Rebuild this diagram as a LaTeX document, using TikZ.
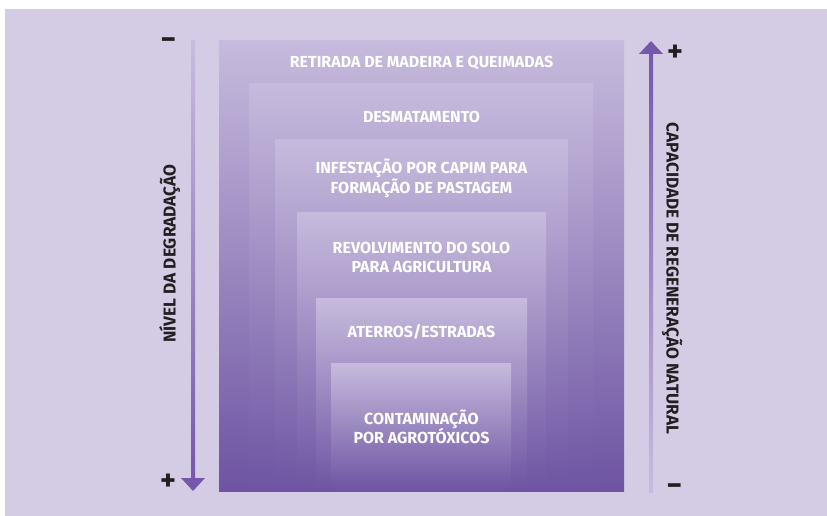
\documentclass[tikz,border=0pt]{standalone}
\usepackage{fontspec}
\setmainfont{Fira Sans}
\definecolor{bgc}{HTML}{D4CCE5}
\definecolor{rtop}{HTML}{C6BBDD}
\definecolor{rbot}{HTML}{6E54A2}
\definecolor{adark}{HTML}{7558AB}
\definecolor{alight}{HTML}{C8BCDE}
\definecolor{ink}{HTML}{231F20}
\begin{document}
\begin{tikzpicture}[x=1pt,y=-1pt,
  layer/.style={top color=rtop, bottom color=rbot},
  lbl/.style={text=white, font=\bfseries\fontsize{16}{19}\selectfont, inner sep=0pt, anchor=base},
  side/.style={text=ink, font=\bfseries\fontsize{17.2}{18}\selectfont, inner sep=0pt, anchor=base},
  sign/.style={text=ink, font=\bfseries\fontsize{30}{30}\selectfont, inner sep=0pt}]
\useasboundingbox (0,0) rectangle (827,516);
\fill[bgc] (5,9) rectangle (827,516);
% nested layers
\fill[layer] (219,41) rectangle (624,491);
\fill[layer] (249,84) rectangle (593,491);
\fill[layer] (275,140) rectangle (568,491);
\fill[layer] (297,212) rectangle (546,491);
\fill[layer] (316,298) rectangle (527,491);
\fill[layer] (331,363) rectangle (511,491);
% labels
\node[lbl] (t1) at (421.5,68) {RETIRADA DE MADEIRA E QUEIMADAS};
\node[lbl] (t2) at (421.5,122.5) {DESMATAMENTO};
\node[lbl] (t3a) at (421.5,173) {INFESTAÇÃO POR CAPIM PARA};
\node[lbl] (t3b) at (421.5,193) {FORMAÇÃO DE PASTAGEM};
\node[lbl] (t4a) at (421.5,253) {REVOLVIMENTO DO SOLO};
\node[lbl] (t4b) at (421.5,272) {PARA AGRICULTURA};
\node[lbl] (t5) at (421.5,337) {ATERROS/ESTRADAS};
\node[lbl] (t6a) at (421.5,424) {CONTAMINAÇÃO};
\node[lbl] (t6b) at (421.5,443) {POR AGROTÓXICOS};
% left arrow
\fill[top color=alight, bottom color=adark] (191,41) rectangle (195,480);
\fill[adark] (181,478) -- (205,478) -- (193,491) -- cycle;
% right arrow
\fill[top color=adark, bottom color=alight] (649,53) rectangle (653,492);
\fill[adark] (639,54) -- (663,54) -- (651,41) -- cycle;
% side labels
\node[side, rotate=90] (sl) at (175.5,253.5) {NÍVEL DA DEGRADAÇÃO};
\node[side, rotate=-90] (sr) at (666.5,278.5) {CAPACIDADE DE REGENERAÇÃO NATURAL};
% signs
\node[sign] (lm) at (168.5,43.5) {−};
\node[sign] (lp) at (168,482) {+};
\node[sign] (rp) at (675,53) {+};
\node[sign] (rm) at (674.5,489.5) {−};
\end{tikzpicture}
\end{document}
